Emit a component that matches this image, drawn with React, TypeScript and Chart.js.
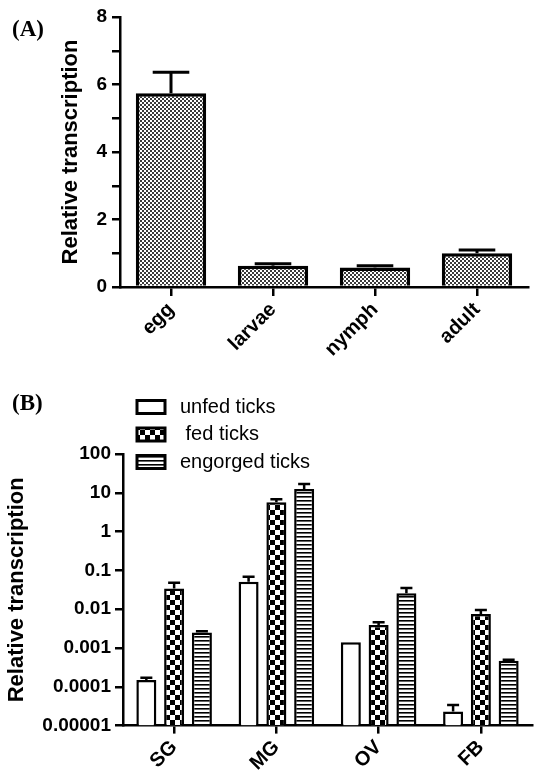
import React, { useEffect, useRef } from "react";
import { Chart, registerables } from "chart.js";

Chart.register(...registerables);

// ---------- Panel A data ----------
const stageLabels = ["egg", "larvae", "nymph", "adult"];
const stageMeans = [5.74, 0.63, 0.58, 1.0];
const stageErrTop = [6.36, 0.69, 0.63, 1.1];
const stageTickLabels = ["0", "", "2", "", "4", "", "6", "", "8"];

// ---------- Panel B data ----------
const tissueLabels = ["SG", "MG", "OV", "FB"];
const seriesNames = ["unfed ticks", " fed ticks", "engorged ticks"];
const unfedValues = [0.00015, 0.051, 0.0014, 0.000023];
const unfedErrTop = [0.00017, 0.069, 0.0014, 0.000034];
const fedValues = [0.034, 5.7, 0.0039, 0.0075];
const fedErrTop = [0.048, 6.8, 0.0046, 0.0095];
const engorgedValues = [0.0025, 12.5, 0.0257, 0.00047];
const engorgedErrTop = [0.0027, 16.8, 0.035, 0.0005];
const logTickValues = [1e-5, 1e-4, 1e-3, 1e-2, 1e-1, 1, 10, 100];
const logTickLabels = ["0.00001", "0.0001", "0.001", "0.01", "0.1", "1", "10", "100"];

const FONT = '"Liberation Sans", Arial, sans-serif';

function makePattern(w: number, h: number, draw: (c: CanvasRenderingContext2D) => void) {
  const c = document.createElement("canvas");
  c.width = w;
  c.height = h;
  const ctx = c.getContext("2d")!;
  ctx.fillStyle = "#fff";
  ctx.fillRect(0, 0, w, h);
  draw(ctx);
  return ctx.createPattern(c, "repeat")!;
}

function stipplePattern() {
  return makePattern(4, 4, (c) => {
    c.fillStyle = "#3a3a3a";
    c.fillRect(0, 0, 2, 2);
    c.fillRect(2, 2, 2, 2);
  });
}

function checkerPattern() {
  return makePattern(10, 10, (c) => {
    c.fillStyle = "#000";
    c.fillRect(0, 0, 5, 5);
    c.fillRect(5, 5, 5, 5);
  });
}

function stripePattern() {
  return makePattern(4, 4, (c) => {
    c.fillStyle = "#000";
    c.fillRect(0, 0, 4, 1);
    c.fillStyle = "#666";
    c.fillRect(0, 1, 4, 1);
  });
}

function makeErrorBarPlugin(tops: number[][], capRatio: number, lineWidth: number) {
  return {
    id: "errorBars",
    afterDatasetsDraw(chart: any) {
      const ctx = chart.ctx as CanvasRenderingContext2D;
      const yScale = chart.scales.y;
      ctx.save();
      ctx.strokeStyle = "#000";
      ctx.lineWidth = lineWidth;
      ctx.lineCap = "butt";
      chart.data.datasets.forEach((ds: any, di: number) => {
        const meta = chart.getDatasetMeta(di);
        meta.data.forEach((bar: any, i: number) => {
          const v = ds.data[i];
          const t = tops[di][i];
          if (t == null || t <= v) return;
          const yv = yScale.getPixelForValue(v);
          const ye = yScale.getPixelForValue(t);
          const half = (bar.width * capRatio) / 2;
          ctx.beginPath();
          ctx.moveTo(bar.x, yv);
          ctx.lineTo(bar.x, ye);
          ctx.moveTo(bar.x - half, ye);
          ctx.lineTo(bar.x + half, ye);
          ctx.stroke();
        });
      });
      ctx.restore();
    },
  };
}

function makeLegendPlugin() {
  return {
    id: "tickLegend",
    afterDraw(chart: any) {
      const ctx = chart.ctx as CanvasRenderingContext2D;
      ctx.save();
      chart.data.datasets.forEach((ds: any, i: number) => {
        const cy = 27 + i * 27.5;
        const bx = 137;
        const bw = 28;
        const bh = 13;
        ctx.fillStyle = ds.backgroundColor;
        ctx.fillRect(bx, cy - bh / 2, bw, bh);
        ctx.strokeStyle = "#000";
        ctx.lineWidth = 3;
        ctx.strokeRect(bx, cy - bh / 2, bw, bh);
        ctx.fillStyle = "#000";
        ctx.font = `20px ${FONT}`;
        ctx.textBaseline = "middle";
        ctx.textAlign = "left";
        ctx.fillText(ds.label, 180, cy);
      });
      ctx.restore();
    },
  };
}

const yTickFont = { family: FONT, size: 19, weight: "bold" as const };
const xTickFont = { family: FONT, size: 20, weight: "bold" as const };
const titleFont = { family: FONT, size: 22, weight: "bold" as const };

export default function App() {
  const refA = useRef<HTMLCanvasElement>(null);
  const refB = useRef<HTMLCanvasElement>(null);

  useEffect(() => {
    const chartA = new Chart(refA.current!, {
      type: "bar",
      data: {
        labels: stageLabels,
        datasets: [
          {
            label: "Relative transcription",
            data: stageMeans,
            backgroundColor: stipplePattern() as any,
            borderColor: "#000",
            borderWidth: 3.5,
            barPercentage: 0.69,
            categoryPercentage: 1,
          },
        ],
      },
      options: {
        responsive: false,
        animation: false,
        layout: { padding: { top: 17, right: 9, left: 0, bottom: 0 } },
        plugins: { legend: { display: false }, tooltip: { enabled: false } },
        scales: {
          x: {
            grid: { display: true, drawOnChartArea: false, offset: false, tickLength: 9, lineWidth: 2.5, color: "#000" },
            border: { display: true, color: "#000", width: 2.5 },
            ticks: { minRotation: 45, maxRotation: 45, color: "#000", font: xTickFont, padding: 2 },
            afterFit: (s: any) => {
              s.height = 380 - 287;
            },
          },
          y: {
            min: 0,
            max: 8,
            grid: { display: true, drawOnChartArea: false, tickLength: 8, lineWidth: 2.5, color: "#000" },
            border: { display: true, color: "#000", width: 2.5 },
            ticks: {
              stepSize: 1,
              color: "#000",
              font: yTickFont,
              padding: 5,
              callback: (_v: any, i: number) => stageTickLabels[i],
            },
            title: {
              display: true,
              text: "Relative transcription",
              color: "#000",
              font: titleFont,
              padding: { top: 58, bottom: 0 },
            },
            afterFit: (s: any) => {
              s.width = 120;
            },
          },
        },
      },
      plugins: [makeErrorBarPlugin([stageErrTop], 0.52, 3)],
    });

    const bDatasets = [
      { values: unfedValues, fill: "#fff" as any },
      { values: fedValues, fill: checkerPattern() as any },
      { values: engorgedValues, fill: stripePattern() as any },
    ];

    const chartB = new Chart(refB.current!, {
      type: "bar",
      data: {
        labels: tissueLabels,
        datasets: bDatasets.map((d, i) => ({
          label: seriesNames[i],
          data: d.values,
          backgroundColor: d.fill,
          borderColor: "#000",
          borderWidth: 2.5,
          barPercentage: 0.72,
          categoryPercentage: 0.815,
        })),
      },
      options: {
        responsive: false,
        animation: false,
        layout: { padding: { top: 74, right: 5, left: 0, bottom: 0 } },
        plugins: { legend: { display: false }, tooltip: { enabled: false } },
        scales: {
          x: {
            grid: { display: true, drawOnChartArea: false, offset: false, tickLength: 8, lineWidth: 2.5, color: "#000" },
            border: { display: true, color: "#000", width: 2.5 },
            ticks: { minRotation: 45, maxRotation: 45, color: "#000", font: xTickFont, padding: 2 },
            afterFit: (s: any) => {
              s.height = 394 - 345.6;
            },
          },
          y: {
            type: "logarithmic",
            min: 1e-5,
            max: 100,
            afterBuildTicks: (s: any) => {
              s.ticks = logTickValues.map((v) => ({ value: v }));
            },
            grid: { display: true, drawOnChartArea: false, tickLength: 8, lineWidth: 2.5, color: "#000" },
            border: { display: true, color: "#000", width: 2.5 },
            ticks: {
              color: "#000",
              font: yTickFont,
              padding: 4,
              autoSkip: false,
              callback: (_v: any, i: number) => logTickLabels[i],
            },
            title: {
              display: true,
              text: "Relative transcription",
              color: "#000",
              font: titleFont,
              padding: { top: 4, bottom: 0 },
            },
            afterFit: (s: any) => {
              s.width = 123;
            },
          },
        },
      },
      plugins: [makeErrorBarPlugin([unfedErrTop, fedErrTop, engorgedErrTop], 0.6, 2.5), makeLegendPlugin()],
    });

    return () => {
      chartA.destroy();
      chartB.destroy();
    };
  }, []);

  return (
    <div
      style={{
        position: "absolute",
        left: 0,
        top: 0,
        width: 537,
        height: 774,
        background: "#fff",
        overflow: "hidden",
      }}
    >
      <canvas ref={refA} width={537} height={380} style={{ position: "absolute", left: 0, top: 0 }} />
      <canvas ref={refB} width={537} height={394} style={{ position: "absolute", left: 0, top: 380 }} />
      <div
        style={{
          position: "absolute",
          left: 12,
          top: 16,
          font: 'bold 23px "Liberation Serif", "Times New Roman", serif',
          lineHeight: "26px",
        }}
      >
        (A)
      </div>
      <div
        style={{
          position: "absolute",
          left: 12,
          top: 390,
          font: 'bold 23px "Liberation Serif", "Times New Roman", serif',
          lineHeight: "26px",
        }}
      >
        (B)
      </div>
    </div>
  );
}
